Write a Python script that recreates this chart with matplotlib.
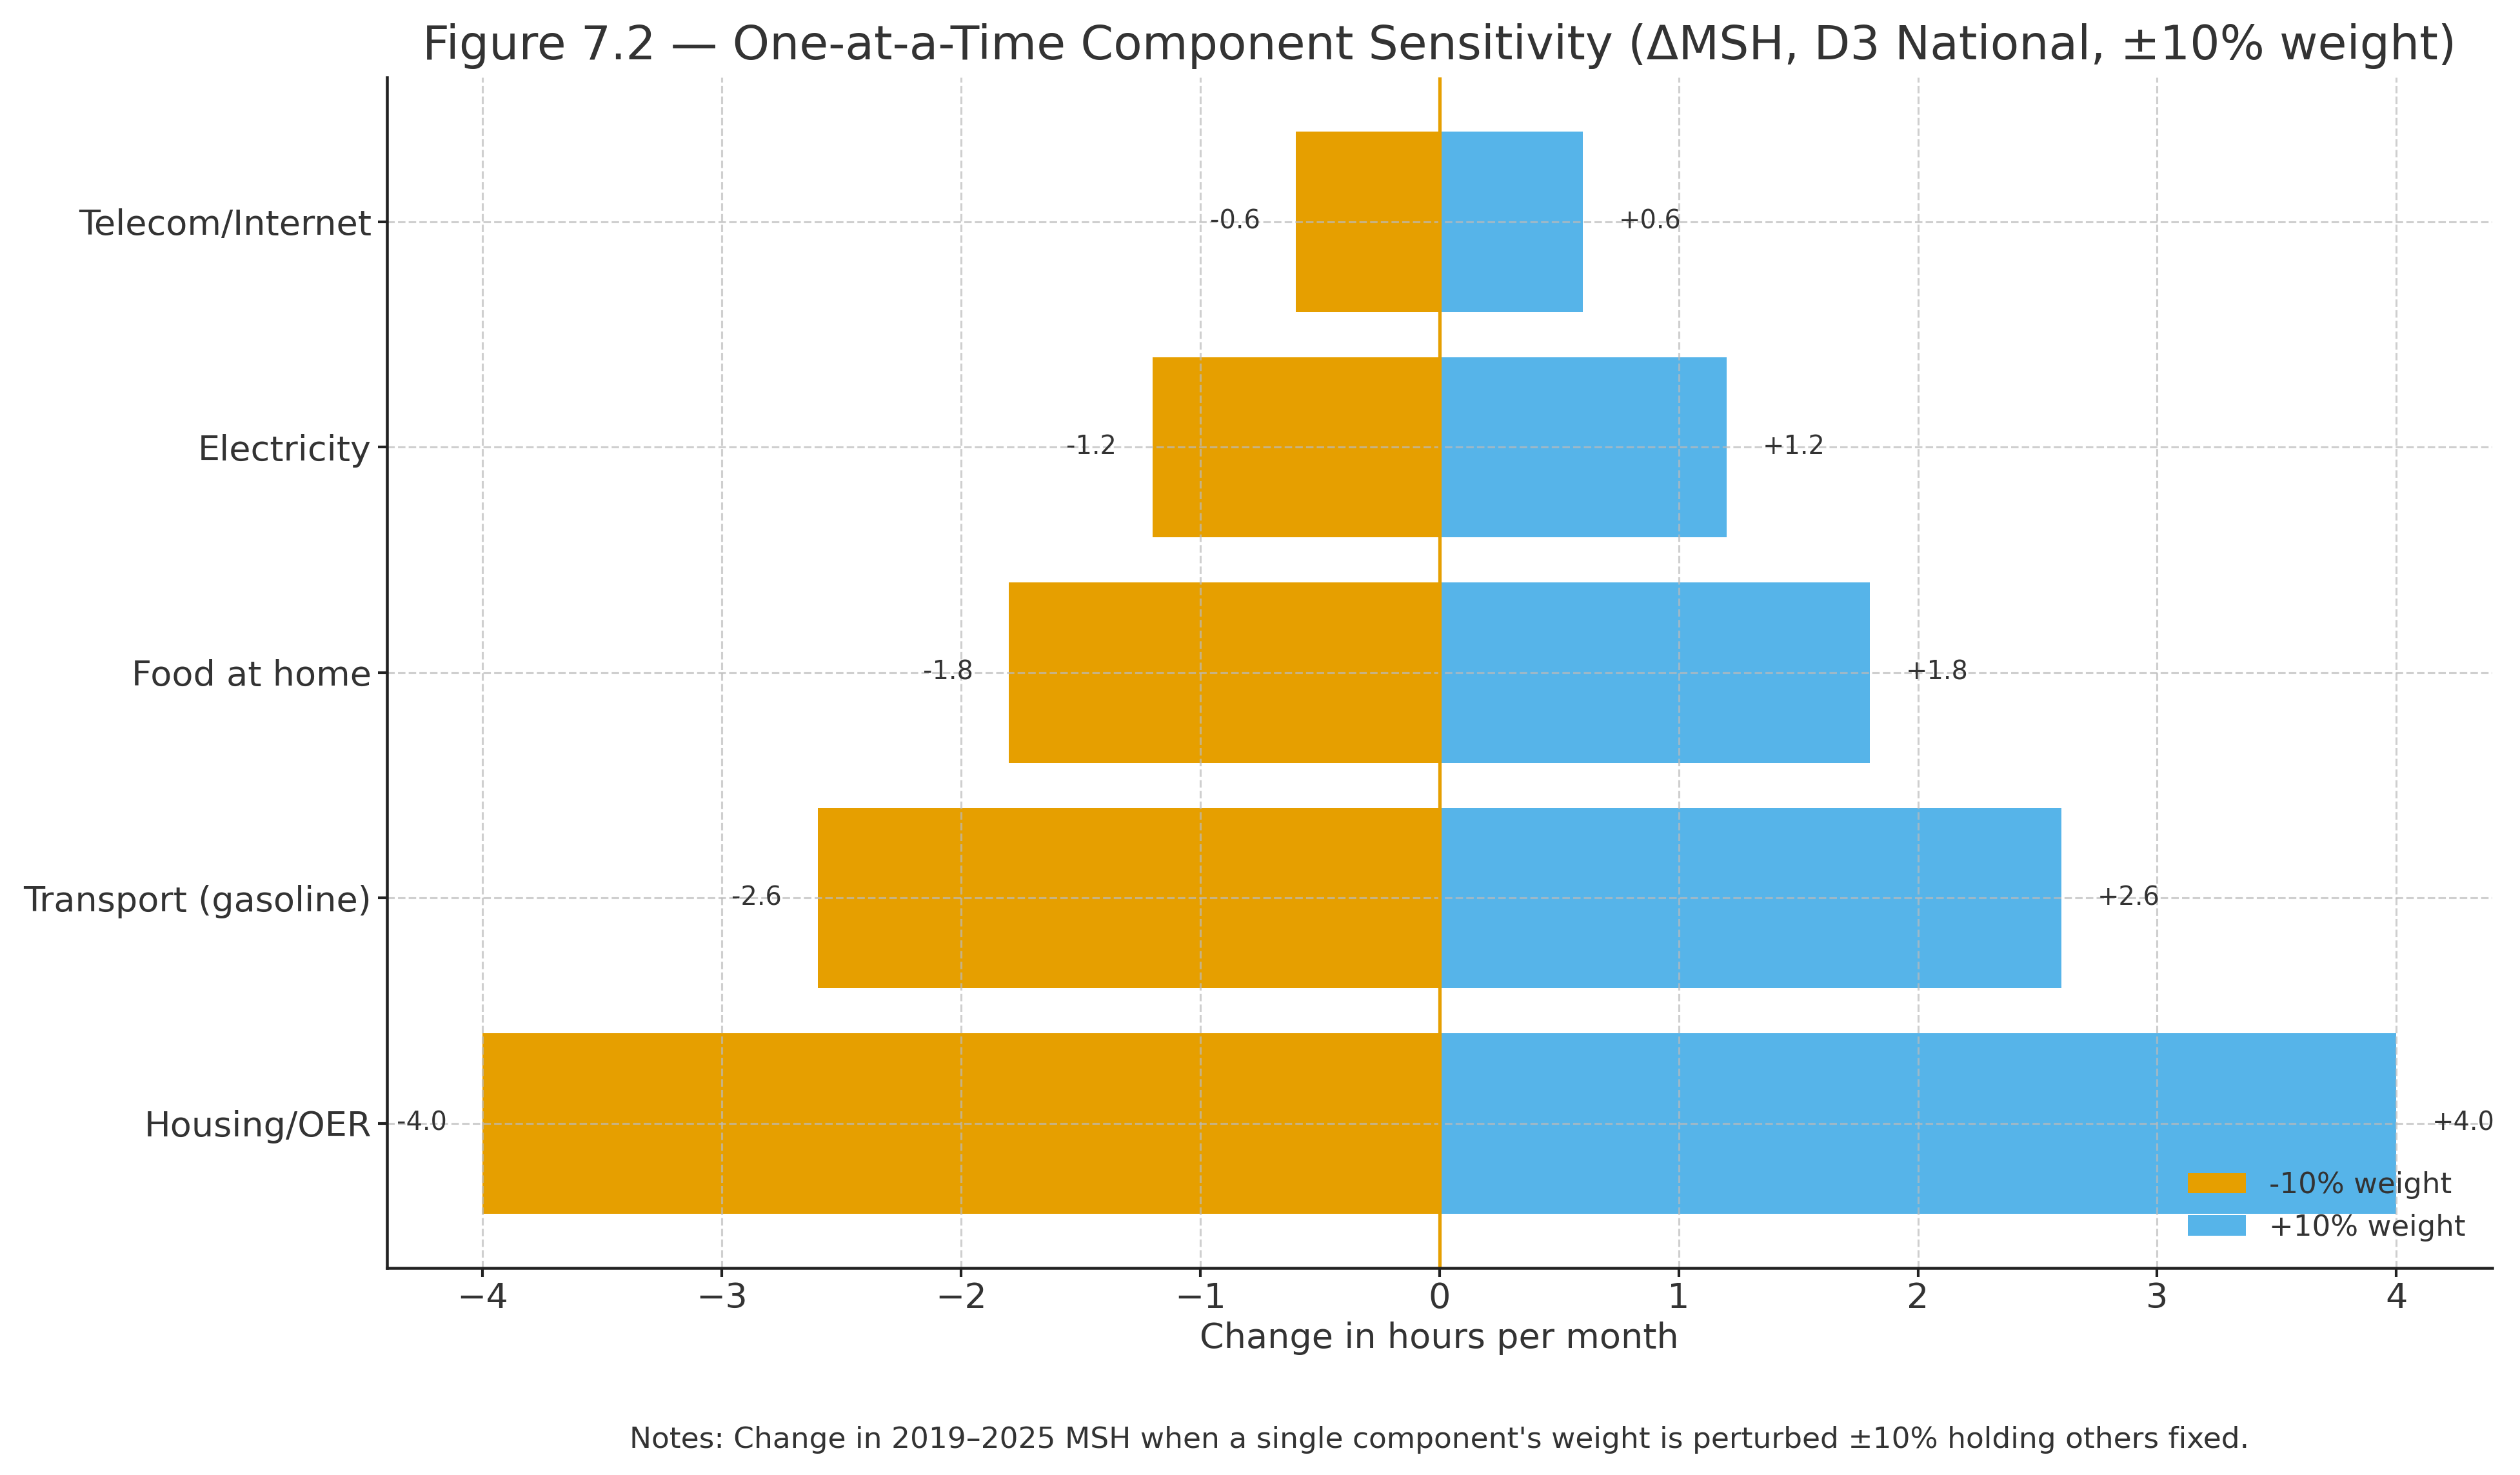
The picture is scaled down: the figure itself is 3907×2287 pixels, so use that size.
import matplotlib
matplotlib.use("Agg")
import matplotlib.pyplot as plt
import numpy as np

categories = ["Housing/OER", "Transport (gasoline)", "Food at home", "Electricity", "Telecom/Internet"]
minus_vals = [-4.0, -2.6, -1.8, -1.2, -0.6]
plus_vals = [4.0, 2.6, 1.8, 1.2, 0.6]
series_labels = ["-10% weight", "+10% weight"]
title = "Figure 7.2 \u2014 One-at-a-Time Component Sensitivity (\u0394MSH, D3 National, \u00b110% weight)"
xlabel = "Change in hours per month"
notes = "Notes: Change in 2019\u20132025 MSH when a single component's weight is perturbed \u00b110% holding others fixed."

c_minus = "#E69F00"
c_plus = "#56B4E9"
txt = "#333333"

plt.rcParams['font.family'] = ['DejaVu Sans']
fig = plt.figure(figsize=(15.628, 9.148), dpi=250)
ax_left, ax_w = 0.1536, 0.8353
ax = fig.add_axes([ax_left, 0.1405, ax_w, 0.807])

y = np.arange(len(categories))
ax.barh(y, minus_vals, height=0.8, color=c_minus, label=series_labels[0])
ax.barh(y, plus_vals, height=0.8, color=c_plus, label=series_labels[1])
ax.axvline(0, color=c_minus, lw=1.5)

for yi, v in zip(y, minus_vals):
    ax.text(v - 0.15, yi, f"{v:.1f}", ha='right', va='center', fontsize=11.5, color=txt)
for yi, v in zip(y, plus_vals):
    ax.text(v + 0.15, yi, f"+{v:.1f}", ha='left', va='center', fontsize=11.5, color=txt)

ax.set_yticks(y)
ax.set_yticklabels(categories)
ax.tick_params(axis='both', labelsize=15.6, colors='#222222', length=4, width=1.2)
ax.tick_params(axis='y', pad=3)
ax.tick_params(axis='x', pad=2)
ax.tick_params(axis='both', labelcolor=txt)
ax.grid(True, linestyle='--', color='#bbbbbb', alpha=0.7, lw=0.9)
for s in ['top', 'right']:
    ax.spines[s].set_visible(False)
for s in ['left', 'bottom']:
    ax.spines[s].set_linewidth(1.3)
    ax.spines[s].set_color('#222222')

ax.set_xlabel(xlabel, fontsize=15.6, color=txt, labelpad=3)
ax.set_title(title, fontsize=21, color=txt, pad=8)
leg = ax.legend(loc='lower right', frameon=False, fontsize=13, labelcolor=txt)

fig.text(ax_left + ax_w / 2, 0.024, notes, ha='center', va='center', fontsize=13.1, color=txt)

fig.savefig("out.png", dpi=250)
